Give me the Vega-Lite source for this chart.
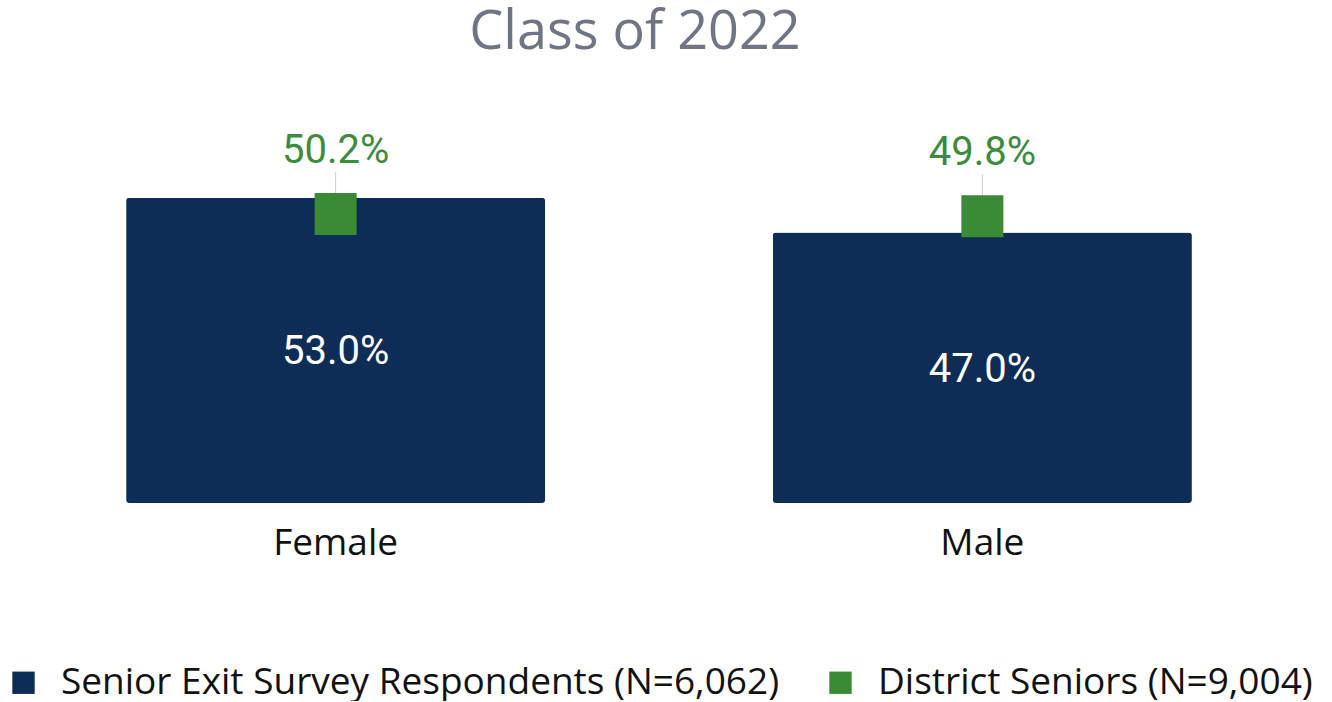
{
  "$schema": "https://vega.github.io/schema/vega-lite/v6.json",
  "width": 1318,
  "height": 403,
  "padding": {"left": 0, "top": 6, "right": 14, "bottom": 0},
  "background": "white",
  "title": {"text": "Class of 2022", "font": "Open Sans", "fontSize": 54, "fontWeight": "normal", "color": "#6f7585", "anchor": "middle", "dx": -24, "offset": 40},
  "data": {"values": [
    {"gender": "Female", "survey": 0.530, "district": 0.502},
    {"gender": "Male", "survey": 0.470, "district": 0.498}
  ]},
  "encoding": {
    "x": {"field": "gender", "type": "nominal", "sort": ["Female", "Male"],
      "scale": {"paddingInner": 0.352, "paddingOuter": 0.195},
      "axis": {"title": null, "domain": false, "ticks": false, "labelAngle": 0, "labelFont": "Open Sans", "labelFontSize": 37, "labelColor": "#111111", "labelPadding": 22, "grid": false}}
  },
  "layer": [
    {
      "mark": {"type": "bar", "cornerRadius": 3},
      "encoding": {
        "y": {"field": "survey", "type": "quantitative", "scale": {"domain": [0, 0.7]}, "axis": null},
        "color": {"datum": "Senior Exit Survey Respondents (N=6,062)", "type": "nominal",
          "scale": {"domain": ["Senior Exit Survey Respondents (N=6,062)", "District Seniors (N=9,004)"], "range": ["#0d2d57", "#3a8a36"]},
          "legend": {"title": null, "orient": "none", "legendX": 5, "legendY": 564, "direction": "horizontal", "padding": 0,
            "symbolType": "square", "symbolSize": 500, "symbolStrokeWidth": 0, "symbolOpacity": 1,
            "labelFont": "Open Sans", "labelFontSize": 37, "labelColor": "#111111", "labelOffset": 19, "columnPadding": 42, "labelLimit": 1000}}
      }
    },
    {
      "mark": {"type": "text", "font": "Roboto", "fontSize": 40, "color": "white", "baseline": "middle", "dy": 2},
      "encoding": {
        "y": {"field": "survey", "type": "quantitative", "stack": "zero", "bandPosition": 0.5},
        "text": {"field": "survey", "type": "quantitative", "format": ".1%"}
      }
    },
    {
      "mark": {"type": "rule", "color": "#cfcfcf", "strokeWidth": 1, "y2Offset": -42},
      "encoding": {
        "y": {"field": "district", "type": "quantitative"},
        "y2": {"field": "district"}
      }
    },
    {
      "mark": {"type": "point", "shape": "square", "filled": true, "size": 1764, "opacity": 1},
      "encoding": {
        "y": {"field": "district", "type": "quantitative"},
        "color": {"datum": "District Seniors (N=9,004)", "type": "nominal"}
      }
    },
    {
      "mark": {"type": "text", "font": "Roboto", "fontSize": 40, "color": "#3d8b3d", "baseline": "middle", "dy": -63},
      "encoding": {
        "y": {"field": "district", "type": "quantitative"},
        "text": {"field": "district", "type": "quantitative", "format": ".1%"}
      }
    }
  ],
  "config": {"view": {"stroke": null}}
}
